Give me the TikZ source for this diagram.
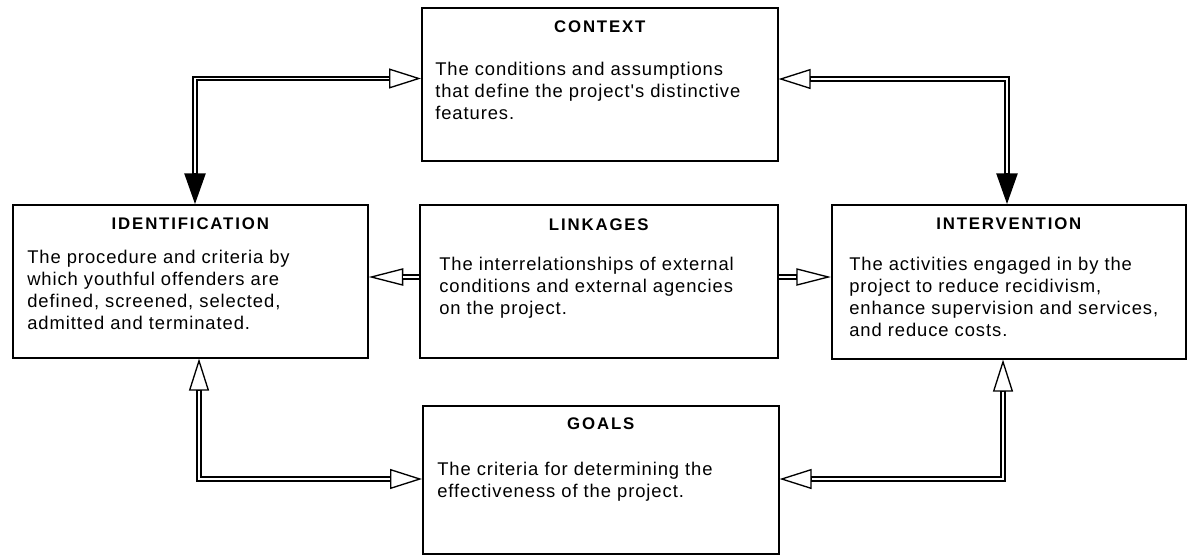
\documentclass[tikz,border=0pt]{standalone}
\usepackage{fontspec}
\setmainfont{Liberation Sans}
\newfontfamily\bodyf[LetterSpace=5]{Liberation Sans}
\newfontfamily\titlef[LetterSpace=11]{Liberation Sans}
\usetikzlibrary{arrows.meta,calc}
\begin{document}
\begin{tikzpicture}[x=0.75pt,y=-0.75pt,
  box/.style={draw, line width=1.2pt, anchor=north west, inner sep=0pt},
  ttl/.style={anchor=base, inner sep=0pt, font=\titlef\bfseries\fontsize{12.6pt}{14pt}\selectfont},
  body/.style={anchor=north west, inner sep=0pt, align=left, font=\bodyf\fontsize{13.8pt}{16.5pt}\selectfont},
  otip/.tip={Triangle[open,fill=white,length=24pt,width=15pt,line width=1pt]},
  ftip/.tip={Triangle[length=23pt,width=16pt,line width=1pt]},
  ltip/.tip={Triangle[open,fill=white,length=26pt,width=13pt,line width=1pt]},
  outer/.style={line width=4pt},
  inner/.style={draw=white,line width=1.3pt}]
\useasboundingbox[fill=white] (0,0) rectangle (1188,557);

% boxes
\node[box, minimum width=356*0.75pt, minimum height=153*0.75pt] (ctx) at (421,7) {};
\node[box, minimum width=355*0.75pt, minimum height=153*0.75pt] (id) at (12,204) {};
\node[box, minimum width=358*0.75pt, minimum height=153*0.75pt] (lnk) at (419,204) {};
\node[box, minimum width=354*0.75pt, minimum height=154*0.75pt] (int) at (831,204) {};
\node[box, minimum width=356*0.75pt, minimum height=148*0.75pt] (goals) at (422,405) {};

% titles
\node[ttl] (ctxT) at ($(ctx.north)+(0,25)$) {CONTEXT};
\node[ttl] (idT) at ($(id.north)+(0,25)$) {IDENTIFICATION};
\node[ttl] (lnkT) at ($(lnk.north)+(0,26)$) {LINKAGES};
\node[ttl] (intT) at ($(int.north)+(0,25)$) {INTERVENTION};
\node[ttl] (goalsT) at ($(goals.north)+(0,24)$) {GOALS};

% bodies
\node[body] (ctxB) at ($(ctx.north west)+(14,55)$) {The conditions and assumptions\\that define the project's distinctive\\features.};
\node[body] (idB) at ($(id.north west)+(15,46)$) {The procedure and criteria by\\which youthful offenders are\\defined, screened, selected,\\admitted and terminated.};
\node[body] (lnkB) at ($(lnk.north west)+(20,53)$) {The interrelationships of external\\conditions and external agencies\\on the project.};
\node[body] (intB) at ($(int.north west)+(18,53)$) {The activities engaged in by the\\project to reduce recidivism,\\enhance supervision and services,\\and reduce costs.};
\node[body] (goalsB) at ($(goals.north west)+(15,57)$) {The criteria for determining the\\effectiveness of the project.};

% bend points
\coordinate (c1) at (195,78.5);
\coordinate (c2) at (1007,79);
\coordinate (c3) at (199,479);
\coordinate (c4) at (1003,479);
\coordinate (c5) at (600,277);

% connectors: context - identification
\draw[outer, {otip}-{ftip}] (ctx.west |- c1) -| (id.north -| c1);
\draw[inner, shorten <=24pt, shorten >=23pt] (ctx.west |- c1) -| (id.north -| c1);
% context - intervention
\draw[outer, {otip}-{ftip}] (ctx.east |- c2) -| (int.north -| c2);
\draw[inner, shorten <=24pt, shorten >=23pt] (ctx.east |- c2) -| (int.north -| c2);
% identification - goals
\draw[outer, {otip}-{otip}] (id.south -| c3) |- (goals.west |- c3);
\draw[inner, shorten <=24pt, shorten >=24pt] (id.south -| c3) |- (goals.west |- c3);
% intervention - goals
\draw[outer, {otip}-{otip}] (int.south -| c4) |- (goals.east |- c4);
\draw[inner, shorten <=24pt, shorten >=24pt] (int.south -| c4) |- (goals.east |- c4);
% linkages - identification / intervention
\draw[outer, -{ltip}] (lnk.west |- c5) -- (id.east |- c5);
\draw[inner, shorten >=26pt] (lnk.west |- c5) -- (id.east |- c5);
\draw[outer, -{ltip}] (lnk.east |- c5) -- (int.west |- c5);
\draw[inner, shorten >=26pt] (lnk.east |- c5) -- (int.west |- c5);
\end{tikzpicture}
\end{document}
